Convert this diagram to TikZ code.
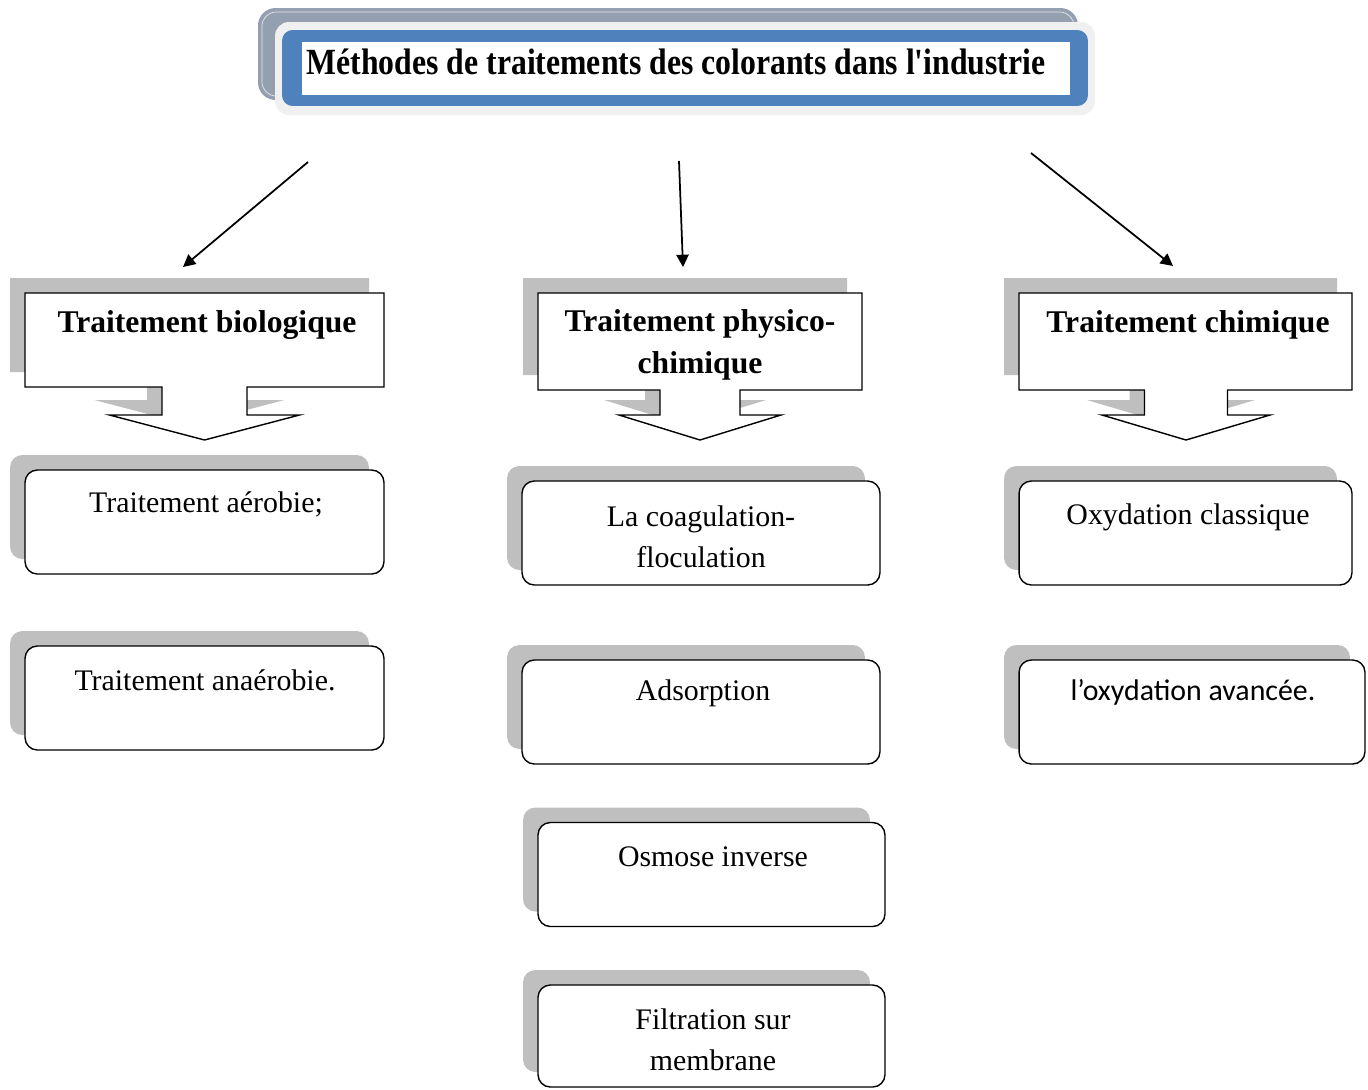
\documentclass[tikz,border=0pt]{standalone}
\usepackage{fontspec}
\setmainfont{Liberation Serif}
\newfontfamily\calibri{Carlito}
\usepackage{xcolor}
\usepackage{graphicx}
\usepackage{tikz}
\usetikzlibrary{arrows.meta,shadows}

\definecolor{shadegray}{HTML}{BFBFBF}
\definecolor{backgray}{HTML}{94A0B0}
\definecolor{glowgray}{HTML}{F0F0F0}
\definecolor{titleblue}{HTML}{4F81BD}

\newcommand{\calloutpath}[6]{(#1,293) -- (#2,293) -- (#2,#3) -- ({#6+#4},#3) -- ({#6+#4},415) -- ({#6+#5},415) -- (#6,440) -- ({#6-#5},415) -- ({#6-#4},415) -- ({#6-#4},#3) -- (#1,#3) -- cycle}

\begin{document}
\begin{tikzpicture}[x=0.02cm, y=-0.02cm,
        item/.style={draw, thick, rounded corners=7pt, fill=white, minimum height=2.08cm,
            general shadow={fill=shadegray, shadow xshift=-0.3cm, shadow yshift=0.3cm}},
        itemtext/.style={font=\fontsize{17}{23.5}\selectfont, align=center},
        headtext/.style={font=\bfseries\fontsize{18}{23.8}\selectfont, align=center},
        arr/.style={-{Triangle[length=7pt,width=7pt]}, line width=1pt}]
                \useasboundingbox (0,0) rectangle (1368,1089);

                \fill[backgray, rounded corners=10pt] (258,8) rectangle (1078,100);
                \draw[white!75!backgray, rounded corners=8pt] (262,12) rectangle (1074,96);
                \fill[glowgray, rounded corners=8pt] (275,22) rectangle (1095,115);
                \node[fill=titleblue, rounded corners=6pt, minimum width=16.12cm, minimum height=1.52cm] (titlebox) at (685,68) {};
                \node[fill=white, minimum width=15.36cm, minimum height=1.06cm] (titlein) at (686,68.5) {};
                \node[font=\bfseries\fontsize{21}{25}\selectfont] (title) at (676,62) {\scalebox{0.86}[1]{M\'ethodes de traitements des colorants dans l\textquotesingle industrie}};

                \coordinate (s1) at (308,162);
                \coordinate (e1) at (183,267);
                \coordinate (s2) at (679,161);
                \coordinate (e2) at (683,267);
                \coordinate (s3) at (1031,153);
                \coordinate (e3) at (1173,266);
                \draw[arr] (s1) -- (e1);
                \draw[arr] (s2) -- (e2);
                \draw[arr] (s3) -- (e3);

                \fill[shadegray, shift={(-15,-15)}] \calloutpath{25}{384}{387}{42.5}{95}{204.5};
                \draw[thick, fill=white] \calloutpath{25}{384}{387}{42.5}{95}{204.5};
                \node[headtext] (bio) at (207,325) {Traitement biologique};

                \fill[shadegray, shift={(-15,-15)}] \calloutpath{538}{862}{390}{40}{81}{700};
                \draw[thick, fill=white] \calloutpath{538}{862}{390}{40}{81}{700};
                \node[headtext] (phys) at (700,345) {Traitement physico-\\chimique};

                \fill[shadegray, shift={(-15,-15)}] \calloutpath{1019}{1352}{390}{41.5}{84}{1186};
                \draw[thick, fill=white] \calloutpath{1019}{1352}{390}{41.5}{84}{1186};
                \node[headtext] (chim) at (1188,325) {Traitement chimique};

                \node[item, minimum width=7.18cm] (aer) at (204.5,522) {};
                \node[itemtext] (aertxt) at (206,504) {Traitement a\'erobie;};
                \node[item, minimum width=7.18cm] (anaer) at (204.5,698) {};
                \node[itemtext] (anaertxt) at (205,680) {Traitement ana\'erobie.};

                \node[item, minimum width=7.16cm] (coag) at (701,533) {};
                \node[itemtext] (coagtxt) at (701,537) {La coagulation-\\floculation};
                \node[item, minimum width=7.16cm] (adsorp) at (701,712) {};
                \node[itemtext] (adsorptxt) at (703,693) {Adsorption};
                \node[item, minimum width=6.94cm] (osmose) at (711.5,874.5) {};
                \node[itemtext] (osmosetxt) at (713,857) {Osmose inverse};
                \node[item, minimum width=6.94cm, minimum height=2.04cm] (filtr) at (711.5,1036) {};
                \node[itemtext] (filtrtxt) at (713,1040) {Filtration sur\\membrane};

                \node[item, minimum width=6.66cm] (oxclass) at (1185.5,533) {};
                \node[itemtext] (oxclasstxt) at (1188,517) {Oxydation classique};
                \node[item, minimum width=6.92cm] (oxav) at (1192,712) {};
                \node[itemtext, font=\calibri\fontsize{17}{23.5}\selectfont] (oxavtxt) at (1193,692) {l’oxydation avanc\'ee.};
            \end{tikzpicture}
\end{document}
